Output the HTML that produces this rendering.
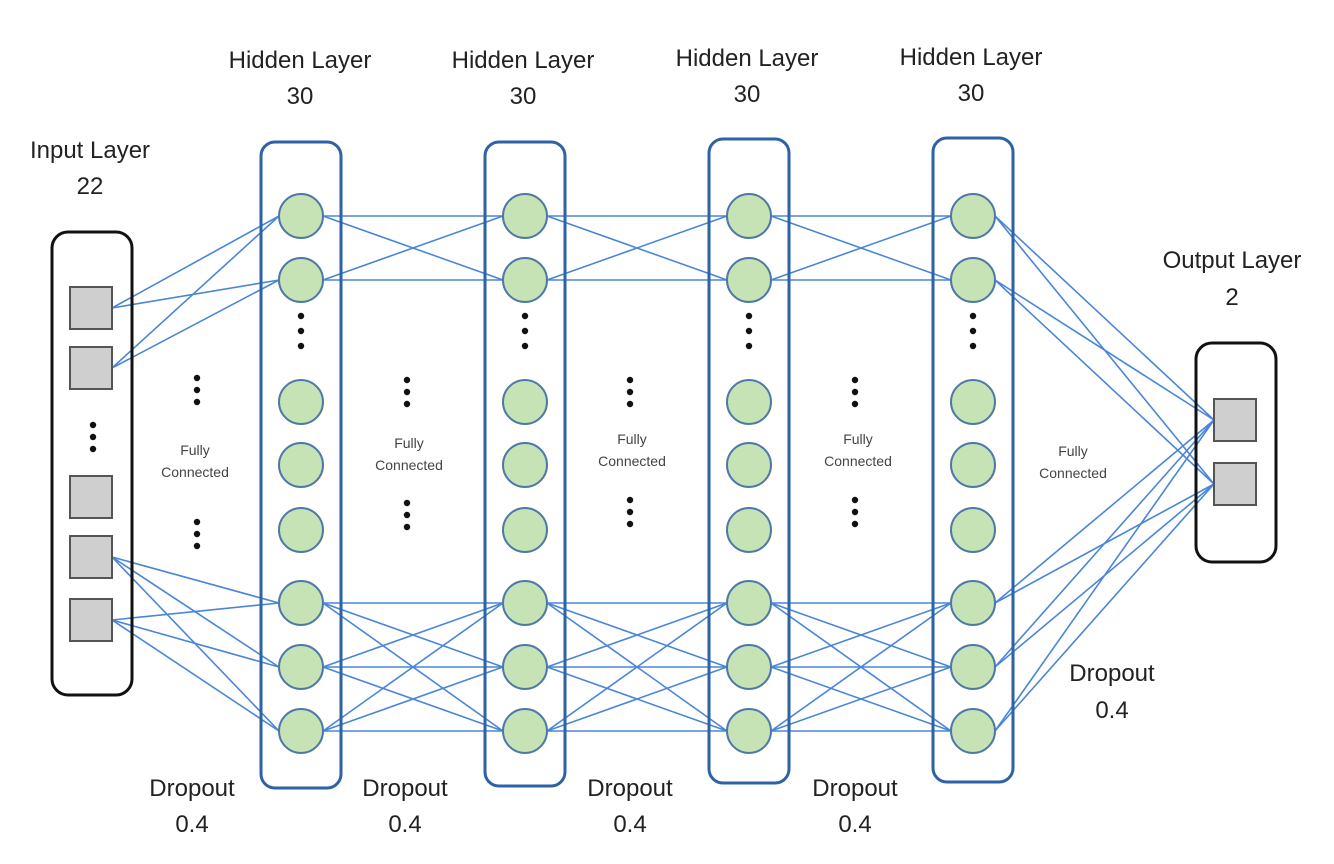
<!DOCTYPE html>
<html><head><meta charset="utf-8"><style>
html,body{margin:0;padding:0;background:#fff;}
svg{display:block}
text{font-family:"Liberation Sans","DejaVu Sans",sans-serif;fill:#222}
.t{font-size:24px}
.s{font-size:14px;fill:#444}
</style></head><body>
<svg id="sv" width="1334" height="864" viewBox="0 0 1334 864" xmlns="http://www.w3.org/2000/svg">
<g id="lines" stroke="#4a86d8" stroke-width="1.6" fill="none"></g>
<rect x="52" y="232" width="80" height="463" rx="16" fill="none" stroke="#111" stroke-width="3"/>
<rect x="1196" y="343" width="80" height="219" rx="16" fill="none" stroke="#111" stroke-width="3"/>
<g id="boxes" fill="none" stroke="#2e62a8" stroke-width="3"></g>
<g id="nodes"></g>
<g id="dots" fill="#111"></g>
<g text-anchor="middle">
<text class="t" x="90" y="158">Input Layer</text><text class="t" x="90" y="194">22</text>
<text class="t" x="300" y="68">Hidden Layer</text><text class="t" x="300" y="104">30</text>
<text class="t" x="523" y="68">Hidden Layer</text><text class="t" x="523" y="104">30</text>
<text class="t" x="747" y="66">Hidden Layer</text><text class="t" x="747" y="102">30</text>
<text class="t" x="971" y="65">Hidden Layer</text><text class="t" x="971" y="101">30</text>
<text class="t" x="1232" y="268">Output Layer</text><text class="t" x="1232" y="305">2</text>
<text class="t" x="192" y="796">Dropout</text><text class="t" x="192" y="832">0.4</text>
<text class="t" x="405" y="796">Dropout</text><text class="t" x="405" y="832">0.4</text>
<text class="t" x="630" y="796">Dropout</text><text class="t" x="630" y="832">0.4</text>
<text class="t" x="855" y="796">Dropout</text><text class="t" x="855" y="832">0.4</text>
<text class="t" x="1112" y="681">Dropout</text><text class="t" x="1112" y="718">0.4</text>
<text class="s" x="195" y="455">Fully</text><text class="s" x="195" y="477">Connected</text>
<text class="s" x="409" y="448">Fully</text><text class="s" x="409" y="470">Connected</text>
<text class="s" x="632" y="444">Fully</text><text class="s" x="632" y="466">Connected</text>
<text class="s" x="858" y="444">Fully</text><text class="s" x="858" y="466">Connected</text>
<text class="s" x="1073" y="456">Fully</text><text class="s" x="1073" y="478">Connected</text>
</g>
</svg>
<script>
var NS="http://www.w3.org/2000/svg";
function el(p,t,a){var e=document.createElementNS(NS,t);for(var k in a)e.setAttribute(k,a[k]);document.getElementById(p).appendChild(e);return e;}
var LX=[301,525,749,973], CY=[216,280,402,465,530,603,667,731], R=22;
var TOPS=[142,142,139,138], BOTS=[788,786,783,782];
var inSq=[308,368,497,557,620], outSq=[420,484];
function ln(x1,y1,x2,y2){el("lines","line",{x1:x1,y1:y1,x2:x2,y2:y2});}
// input -> hidden1
[0,1].forEach(function(i){[0,1].forEach(function(j){ln(112,inSq[i],LX[0]-R,CY[j]);});});
[3,4].forEach(function(i){[5,6,7].forEach(function(j){ln(112,inSq[i],LX[0]-R,CY[j]);});});
// hidden -> hidden
for(var l=0;l<3;l++){
 [[0,1],[5,6,7]].forEach(function(g){g.forEach(function(a){g.forEach(function(b){ln(LX[l]+R,CY[a],LX[l+1]-R,CY[b]);});});});
}
// last -> out
[0,1,5,6,7].forEach(function(a){outSq.forEach(function(o){ln(LX[3]+R,CY[a],1214,o);});});
// boxes
LX.forEach(function(x,i){el("boxes","rect",{x:x-40,y:TOPS[i],width:80,height:BOTS[i]-TOPS[i],rx:14});});
// nodes
LX.forEach(function(x){CY.forEach(function(y){el("nodes","circle",{cx:x,cy:y,r:R,fill:"#c6e3b5",stroke:"#4f78a8","stroke-width":2});});
 [316,331,346].forEach(function(y){el("dots","circle",{cx:x,cy:y,r:3.2});});});
inSq.forEach(function(y){el("nodes","rect",{x:70,y:y-21,width:42,height:42,fill:"#cfcfcf",stroke:"#555","stroke-width":2});});
outSq.forEach(function(y){el("nodes","rect",{x:1214,y:y-21,width:42,height:42,fill:"#cfcfcf",stroke:"#555","stroke-width":2});});
[425,437,449].forEach(function(y){el("dots","circle",{cx:93,cy:y,r:3.2});});
[[197,378,522],[407,380,503],[630,380,500],[855,380,500]].forEach(function(d){
 [0,12,24].forEach(function(o){el("dots","circle",{cx:d[0],cy:d[1]+o,r:3.2});el("dots","circle",{cx:d[0],cy:d[2]+o,r:3.2});});});
</script>
</body></html>
